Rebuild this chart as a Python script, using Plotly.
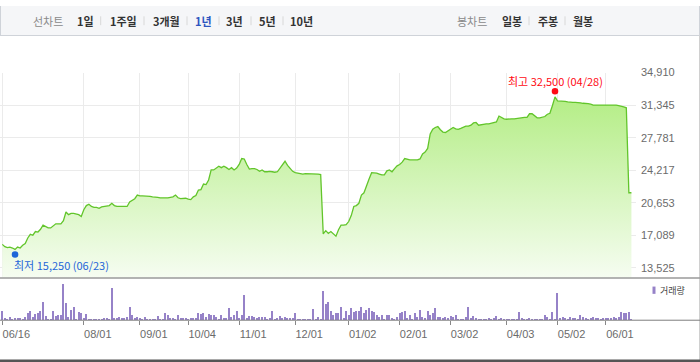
import pandas as pd
import plotly.graph_objects as go

# ---------------- data ----------------
holidays = ['2016-08-15', '2016-09-14', '2016-09-15', '2016-09-16', '2016-10-03', '2016-12-30',
            '2017-01-27', '2017-01-30', '2017-03-01', '2017-05-01', '2017-05-03', '2017-05-05',
            '2017-05-09', '2017-06-06']
days = pd.bdate_range('2016-06-16', '2017-06-16')
dates = [d.strftime('%Y-%m-%d') for d in days if d.strftime('%Y-%m-%d') not in holidays]

close = [
    16100, 15850, 15750, 15800, 15700, 15550, 15800, 15700, 16000, 16200,
    16800, 17200, 17100, 17500, 17450, 17750, 18200, 18050, 17900, 17900,
    18150, 18350, 18350, 18350, 18700, 19650, 19350, 19500, 19500, 19450,
    19350, 19150, 19900, 20350, 20500, 20250, 20150, 20150, 20050, 20200,
    20250, 20300, 20350, 20600, 20350, 20250, 20250, 20250, 20250, 20250,
    20750, 20900, 21100, 21500, 21400, 21400, 21400, 21350, 21350, 21300,
    21300, 21250, 21200, 21200, 21150, 21200, 21250, 21300, 21500, 21200,
    21100, 21100, 21150, 21050, 21000, 21300, 21450, 22050, 22100, 22700,
    22650, 23150, 24250, 24250, 24500, 24650, 24500, 24650, 24500, 24300,
    24500, 24250, 24450, 24850, 25500, 25450, 24850, 24350, 24400, 24400,
    24300, 24100, 24250, 24050, 24050, 24100, 24050, 24000, 24050, 24450,
    24800, 25200, 24750, 24400, 24100, 23950, 23900, 23850, 23800, 23850,
    23850, 23850, 23850, 23800, 23800, 23750, 17250, 17600, 17300, 17500,
    17200, 17000, 17700, 18200, 18200, 18250, 18600, 19250, 20250, 20350,
    20600, 21500, 21750, 22600, 23250, 23950, 23950, 23900, 23800, 23700,
    23700, 24150, 24250, 24050, 24400, 24700, 24850, 25100, 25500, 25400,
    25350, 25350, 25350, 25350, 25450, 26000, 26200, 26600, 28200, 28700,
    28900, 29000, 28650, 28400, 28350, 28550, 28750, 28900, 28750, 28700,
    28800, 28950, 29050, 29050, 29150, 29400, 29450, 29150, 29200, 29300,
    29300, 29300, 29350, 29400, 29500, 30150, 30000, 29850, 29800, 29850,
    29850, 29850, 29900, 29950, 29950, 30000, 30000, 30400, 30400, 30200,
    29950, 29950, 30000, 30100, 30350, 30450, 31300, 32250, 31800, 31800,
    31800, 31750, 31700, 31650, 31650, 31650, 31650, 31600, 31550, 31550,
    31500, 31450, 31350, 31350, 31350, 31400, 31400, 31400, 31400, 31400,
    31350, 31350, 31300, 31250, 31150, 31050, 21750, 21750,
]

volume = [
    28, 6, 3, 10, 3, 7, 7, 7, 3, 8,
    22, 28, 8, 18, 20, 28, 55, 13, 3, 1,
    28, 13, 14, 16, 110, 52, 8, 30, 40, 3,
    25, 22, 5, 19, 3, 0.5, 0.5, 0.5, 0.5, 0.5,
    4, 4, 1, 98, 4, 5, 8, 4, 4, 8,
    40, 16, 6, 10, 6, 3, 10, 3, 1, 1,
    3, 13, 1, 3, 22, 15, 5, 7, 1, 16,
    7, 6, 5, 3, 7, 7, 5, 20, 17, 22,
    9, 19, 14, 16, 10, 3, 16, 4, 4, 37,
    8, 14, 28, 4, 14, 76, 6, 11, 11, 10,
    5, 10, 10, 8, 3, 5, 28, 3, 6, 11,
    6, 10, 6, 7, 5, 22, 3, 3, 0.5, 0.5,
    0.5, 0.5, 34, 3, 10, 3, 88, 50, 55, 26,
    14, 22, 20, 40, 6, 28, 16, 36, 23, 26,
    28, 40, 20, 32, 38, 26, 25, 14, 8, 16,
    3, 16, 16, 6, 3, 10, 20, 23, 28, 6,
    14, 3, 22, 10, 32, 8, 7, 27, 16, 20,
    38, 8, 10, 5, 8, 5, 11, 8, 14, 3,
    1, 1, 8, 40, 6, 11, 6, 0.5, 0.5, 0.5,
    0.5, 6, 0.5, 7, 11, 1, 4, 0.5, 0.5, 0.5,
    0.5, 0.5, 0.5, 23, 5, 3, 3, 4, 0.5, 0.5,
    3, 0.5, 0.5, 16, 8, 0.5, 23, 0.5, 83, 5,
    10, 6, 3, 10, 4, 5, 0.5, 16, 10, 6,
    3, 6, 10, 6, 4, 3, 4, 7, 6, 4,
    10, 6, 8, 25, 21, 22, 25, 0.5,
]

y_ticks = [13525, 17089, 20653, 24217, 27781, 31345, 34910]
x_tick_dates = ['2016-06-16', '2016-08-01', '2016-09-01', '2016-10-04', '2016-11-01', '2016-12-01',
                '2017-01-02', '2017-02-01', '2017-03-02', '2017-04-03', '2017-05-02', '2017-06-01']
x_tick_text = ['06/16', '08/01', '09/01', '10/04', '11/01', '12/01',
               '01/02', '02/01', '03/02', '04/03', '05/02', '06/01']

low_date, low_value, low_text = '2016-06-23', 15250, '최저 15,250 (06/23)'
high_date, high_value, high_text = '2017-04-28', 32500, '최고 32,500 (04/28)'

line_tabs = ['1일', '1주일', '3개월', '1년', '3년', '5년', '10년']
candle_tabs = ['일봉', '주봉', '월봉']

n = min(len(dates), len(close), len(volume))
dates, close, volume = dates[:n], close[:n], volume[:n]

# ---------------- helpers (pixel -> paper) ----------------
W, H = 700, 362
def px(x):
    return x / W
def py(y):
    return 1 - y / H

KR = "Noto Sans CJK KR"
NUM = "Liberation Sans, Noto Sans CJK KR"

fig = go.Figure()
fig.add_trace(go.Scatter(
    x=dates, y=close, mode='lines', xaxis='x', yaxis='y',
    line=dict(color='#62c52b', width=1.3),
    fill='tozeroy',
    fillgradient=dict(type='vertical', start=12480, stop=32500,
                      colorscale=[[0, '#f7fdf3'], [1, '#b3ed84']]),
    hoverinfo='skip', showlegend=False,
))
fig.add_trace(go.Bar(
    x=dates, y=volume, xaxis='x2', yaxis='y2',
    marker=dict(color='#9682c8', line=dict(width=0)), width=0.45,
    hoverinfo='skip', showlegend=False,
))

xr = [-0.903, 248.8]
fig.update_layout(
    width=W, height=H, margin=dict(l=0, r=0, t=0, b=0),
    paper_bgcolor='white', plot_bgcolor='rgba(0,0,0,0)',
    showlegend=False, bargap=0,
    xaxis=dict(domain=[0, px(636)], type='category', range=xr, categoryorder='array',
               categoryarray=dates, tickvals=x_tick_dates, showticklabels=False, ticks='',
               showgrid=True, gridcolor='#ebebeb', gridwidth=1, zeroline=False, showline=False,
               anchor='y', fixedrange=True),
    yaxis=dict(domain=[py(276), py(67.7)], range=[12480.5, 34910], side='right', anchor='x',
               tickvals=y_ticks, ticktext=[f'{v:,}' for v in y_ticks], ticks='',
               showgrid=True, gridcolor='#ebebeb', gridwidth=1, zeroline=False, showline=False,
               tickfont=dict(family=NUM, size=11, color='#6b6b6b'), ticklabelstandoff=4,
               fixedrange=True),
    xaxis2=dict(domain=[0, px(636)], type='category', range=xr, categoryorder='array',
                categoryarray=dates, tickvals=x_tick_dates, ticktext=x_tick_text,
                ticks='outside', ticklen=4, tickcolor='#888888', tickwidth=1,
                tickfont=dict(family=NUM, size=11, color='#6b6b6b'), ticklabelshift=14,
                showgrid=False, zeroline=False, showline=False, anchor='y2', fixedrange=True),
    yaxis2=dict(domain=[py(319.3), py(282.7)], range=[0, 110], visible=False, anchor='x2',
                fixedrange=True),
)

shapes = []
# header bar
shapes.append(dict(type='rect', xref='paper', yref='paper', x0=0, x1=1, y0=py(30), y1=1,
                   fillcolor='#f5f6f8', line=dict(width=0), layer='below'))
for (x0, y0, x1, y1) in [(0.5, 0, 0.5, 30), (699.5, 0, 699.5, 30), (0, 30, 700, 30)]:
    shapes.append(dict(type='line', xref='paper', yref='paper', x0=px(x0), x1=px(x1),
                       y0=py(y0), y1=py(y1), line=dict(color='#cfd3d9', width=1)))
# right border of chart area
shapes.append(dict(type='line', xref='paper', yref='paper', x0=px(699.5), x1=px(699.5),
                   y0=py(30), y1=py(360), line=dict(color='#d0d0d0', width=1)))
# main chart bottom line
shapes.append(dict(type='line', xref='paper', yref='paper', x0=0, x1=1, y0=py(276.5), y1=py(276.5),
                   line=dict(color='#9a9a9a', width=1.5)))
# volume axis line
shapes.append(dict(type='line', xref='paper', yref='paper', x0=0, x1=1, y0=py(319.5), y1=py(319.5),
                   line=dict(color='#7d7d7d', width=1)))
# bottom dark bar
shapes.append(dict(type='rect', xref='paper', yref='paper', x0=0, x1=1, y0=0, y1=py(359.5),
                   fillcolor='#555555', line=dict(width=0)))
# header separators
for sx in [100.7, 144, 187, 219, 251, 283, 529, 565]:
    shapes.append(dict(type='line', xref='paper', yref='paper', x0=px(sx), x1=px(sx),
                       y0=py(10.5), y1=py(19.5), line=dict(color='#d8d8d8', width=1)))
# volume legend square
shapes.append(dict(type='rect', xref='paper', yref='paper', x0=px(652.5), x1=px(655.5),
                   y0=py(292.7), y1=py(285.3), fillcolor='#9682c8', line=dict(width=0)))
# low / high dots
shapes.append(dict(type='circle', xref='x', yref='y', xsizemode='pixel', ysizemode='pixel',
                   xanchor=dates.index(low_date), yanchor=low_value,
                   x0=-3.3, x1=3.3, y0=-2.4 - 3.3, y1=-2.4 + 3.3,
                   fillcolor='#1f66d8', line=dict(width=0)))
shapes.append(dict(type='circle', xref='x', yref='y', xsizemode='pixel', ysizemode='pixel',
                   xanchor=dates.index(high_date), yanchor=high_value,
                   x0=-3.3, x1=3.3, y0=3.4 - 3.3, y1=3.4 + 3.3,
                   fillcolor='#ff0a14', line=dict(width=0)))
fig.update_layout(shapes=shapes)

ann = []
ann.append(dict(x=dates.index(high_date), y=high_value, xref='x', yref='y', text=high_text,
                showarrow=False, xanchor='center', yanchor='middle', yshift=13.4,
                font=dict(family=KR, size=11, color='#ff0a14')))
ann.append(dict(x=dates.index(low_date), y=low_value, xref='x', yref='y', text=low_text,
                showarrow=False, xanchor='left', yanchor='middle', xshift=-3.5, yshift=-12.4,
                font=dict(family=KR, size=11, color='#1f66d8')))
ann.append(dict(x=px(658), y=py(289.5), xref='paper', yref='paper', text='거래량',
                showarrow=False, xanchor='left', yanchor='middle',
                font=dict(family=KR, size=9, color='#444444')))
# header tabs
ann.append(dict(x=px(48), y=py(15), xref='paper', yref='paper', text='선차트', showarrow=False,
                xanchor='center', yanchor='middle', font=dict(family=KR, size=11, color='#8a8a8a')))
ann.append(dict(x=px(471.5), y=py(15), xref='paper', yref='paper', text='봉차트', showarrow=False,
                xanchor='center', yanchor='middle', font=dict(family=KR, size=11, color='#8a8a8a')))
for label, cx in zip(line_tabs, [85, 123.5, 166, 203.5, 235, 267.5, 301.5]):
    col = '#2d55c0' if label == '1년' else '#333333'
    ann.append(dict(x=px(cx), y=py(15), xref='paper', yref='paper', text=f'<b>{label}</b>',
                    showarrow=False, xanchor='center', yanchor='middle',
                    font=dict(family=KR, size=11, color=col)))
for label, cx in zip(candle_tabs, [511.5, 547.5, 583]):
    ann.append(dict(x=px(cx), y=py(15), xref='paper', yref='paper', text=f'<b>{label}</b>',
                    showarrow=False, xanchor='center', yanchor='middle',
                    font=dict(family=KR, size=11, color='#333333')))
fig.update_layout(annotations=ann)

fig.write_html("out.html")
